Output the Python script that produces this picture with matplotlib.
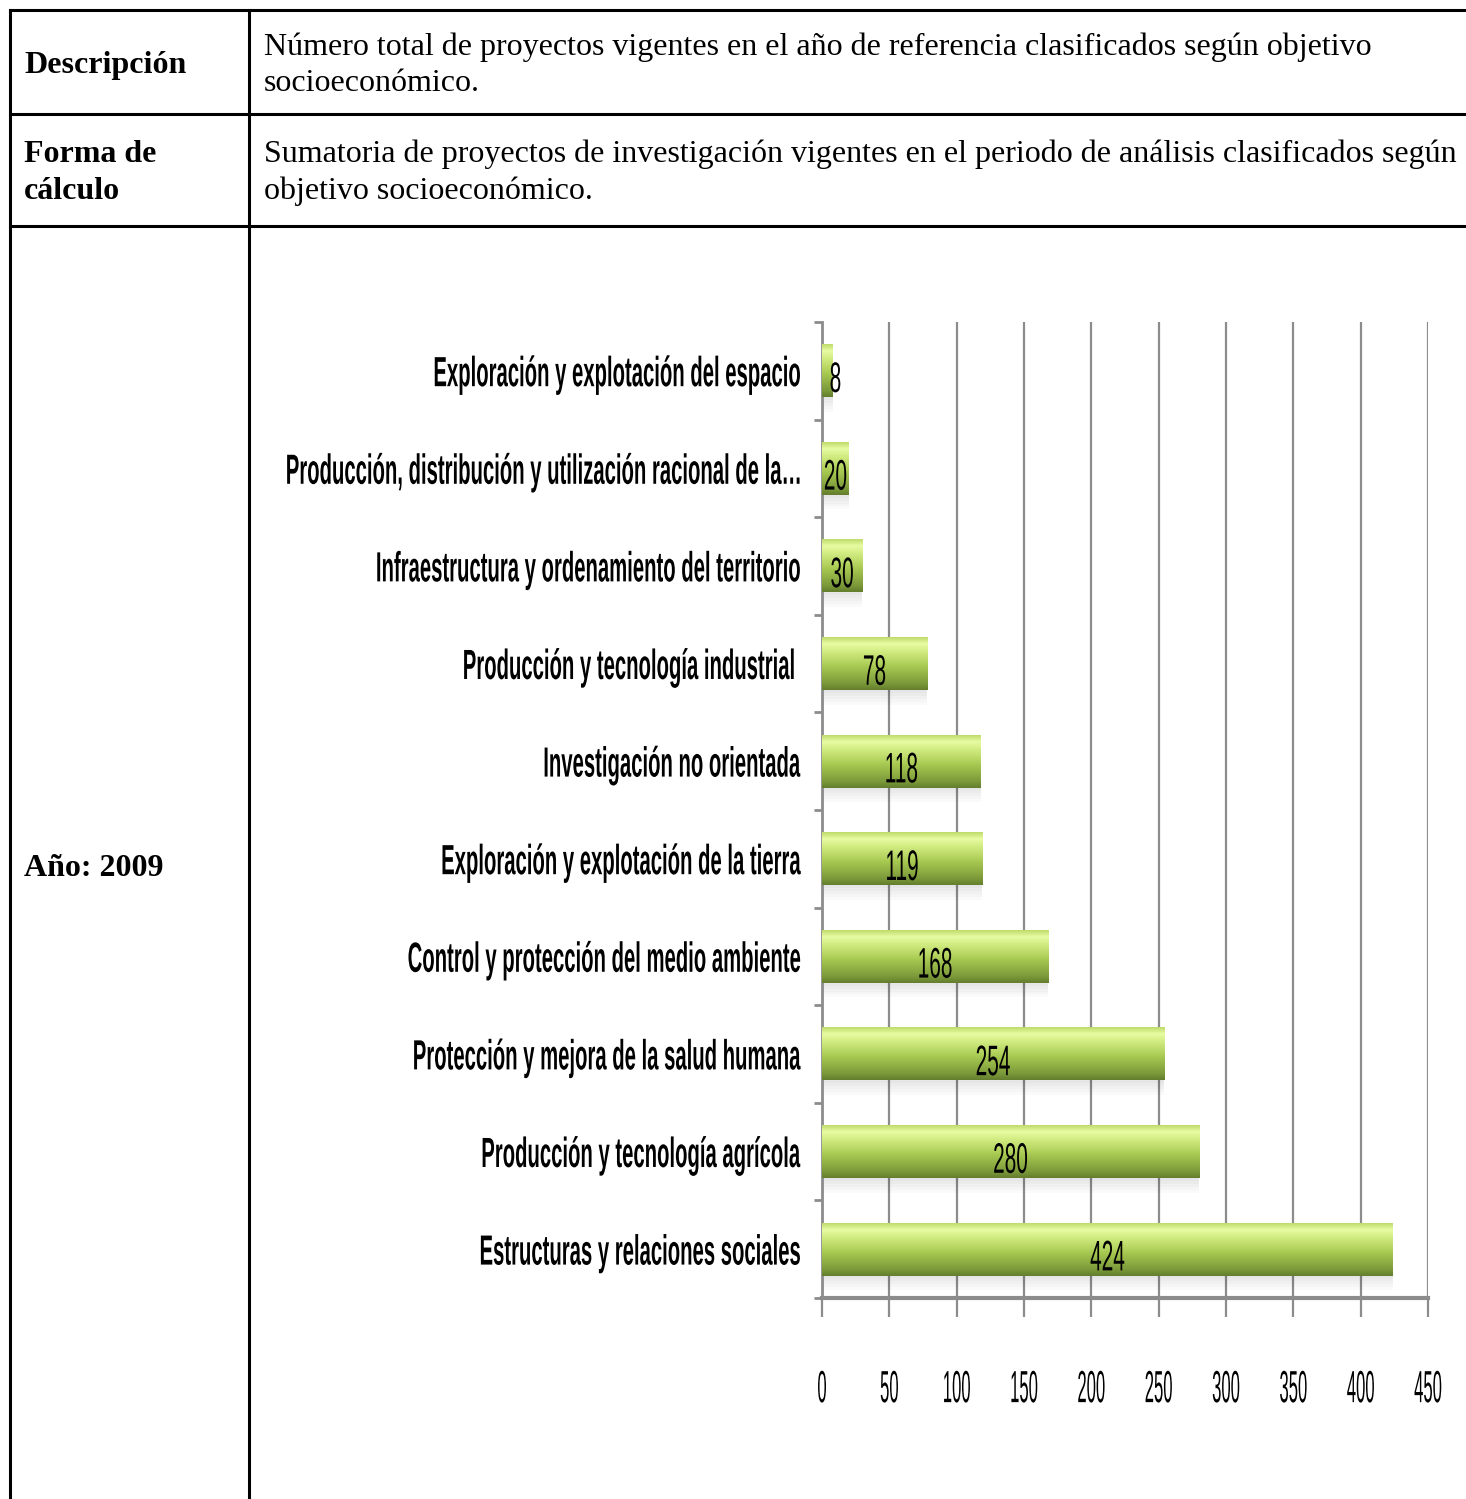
import numpy as np
import matplotlib
matplotlib.use('Agg')
import matplotlib.pyplot as plt
from matplotlib.colors import LinearSegmentedColormap
from matplotlib.patheffects import AbstractPathEffect
from matplotlib.transforms import Affine2D

# data, top to bottom as in the chart
categorias = ['Exploración y explotación del espacio',
              'Producción, distribución y utilización racional de la…',
              'Infraestructura y ordenamiento del territorio',
              'Producción y tecnología industrial ',
              'Investigación no orientada',
              'Exploración y explotación de la tierra',
              'Control y protección del medio ambiente',
              'Protección y mejora de la salud humana',
              'Producción y tecnología agrícola',
              'Estructuras y relaciones sociales']
proyectos = [8, 20, 30, 78, 118, 119, 168, 254, 280, 424]
xticks = [0, 50, 100, 150, 200, 250, 300, 350, 400, 450]

filas_izq = ['Descripción', 'Forma de\ncálculo', 'Año: 2009']
filas_der = ['Número total de proyectos vigentes en el año de referencia clasificados según objetivo\nsocioeconómico.',
             'Sumatoria de proyectos de investigación vigentes en el periodo de análisis clasificados según\nobjetivo socioeconómico.']


class Estirar(AbstractPathEffect):
    # stretch glyphs vertically around mid cap height (the original font is a squeezed Calibri)
    def __init__(self, sy, pivot=36):
        super().__init__()
        self.sy = sy
        self.pivot = pivot

    def draw_path(self, renderer, gc, tpath, affine, rgbFace=None):
        t = Affine2D().translate(0, -self.pivot).scale(1, self.sy).translate(0, self.pivot) + affine
        renderer.draw_path(gc, tpath, t, rgbFace)


W, H = 1466, 1499
fig = plt.figure(figsize=(W / 100, H / 100), dpi=100)

# table frame drawn in pixel coords
bg = fig.add_axes([0, 0, 1, 1])
bg.set_xlim(0, W)
bg.set_ylim(H, 0)
bg.axis('off')
lw = 2.2
bg.plot([10, W], [10, 10], color='black', lw=lw)
bg.plot([10, W], [114, 114], color='black', lw=lw)
bg.plot([10, W], [226, 226], color='black', lw=lw)
bg.plot([10, 10], [10, H], color='black', lw=lw)
bg.plot([249, 249], [10, H], color='black', lw=lw)

serif = ['Liberation Serif', 'DejaVu Serif']
bg.text(24, 65, filas_izq[0], fontsize=23, fontweight='bold', family=serif, va='center')
bg.text(24, 173, filas_izq[1], fontsize=23, fontweight='bold', family=serif, va='center',
        linespacing=1.32)
bg.text(24, 868, filas_izq[2], fontsize=23, fontweight='bold', family=serif, va='center')
bg.text(264, 65, filas_der[0], fontsize=23, family=serif, va='center', linespacing=1.32)
bg.text(264, 173, filas_der[1], fontsize=23, family=serif, va='center', linespacing=1.32)

# chart
sans = ['Liberation Sans', 'DejaVu Sans']
x0, x1, y0, y1 = 822, 1428, 322, 1298
ax = fig.add_axes([x0 / W, 1 - y1 / H, (x1 - x0) / W, (y1 - y0) / H])
n = len(categorias)
ypos = np.arange(n)[::-1]

cmap = LinearSegmentedColormap.from_list('verde', [
    (0.0, '#657f2e'), (0.12, '#7c9a3a'), (0.45, '#a8ca52'),
    (0.75, '#d4ee84'), (0.88, '#e8fba3'), (1.0, '#c0dc6c')])
grad = np.linspace(0, 1, 64).reshape(-1, 1)
bh = 0.54
for y, v in zip(ypos, proyectos):
    # soft shadow below each bar
    for k in range(5):
        ax.barh(y - 0.03 - k * 0.03, v, height=bh, color='black', alpha=0.02, zorder=2, lw=0)
    ax.imshow(grad, cmap=cmap, aspect='auto', origin='lower',
              extent=[0, v, y - bh / 2, y + bh / 2], zorder=3)
    ax.text(max(v / 2, 10), y - 0.08, str(v), ha='center', va='center', fontsize=15,
            family=sans, zorder=5, path_effects=[Estirar(2.05)])
ax.set_xlim(0, 450)
ax.set_ylim(-0.5, n - 0.5)

ax.set_xticks(xticks)
ax.set_xticklabels([str(t) for t in xticks], fontsize=12, family=sans)
for t in ax.get_xticklabels():
    t.set_path_effects([Estirar(2.7)])
ax.xaxis.grid(True, color='#8c8c8c', lw=1.6, zorder=1)
ax.set_axisbelow(True)
ax.tick_params(axis='x', length=14, width=1.6, color='#8c8c8c', pad=45)

ax.set_yticks(ypos)
ax.set_yticklabels(categorias, fontsize=14.6, fontweight='bold', family=sans)
for t in ax.get_yticklabels():
    t.set_path_effects([Estirar(2.08)])
ax.set_yticks(np.arange(-0.5, n, 1), minor=True)
ax.tick_params(axis='y', which='major', length=0, pad=16)
ax.tick_params(axis='y', which='minor', length=6, width=2, color='#8c8c8c')

for s in ['top', 'right']:
    ax.spines[s].set_visible(False)
ax.spines['left'].set_color('#8c8c8c')
ax.spines['left'].set_linewidth(2)
ax.spines['bottom'].set_color('#8c8c8c')
ax.spines['bottom'].set_linewidth(3)

fig.savefig('out.png', dpi=100)
